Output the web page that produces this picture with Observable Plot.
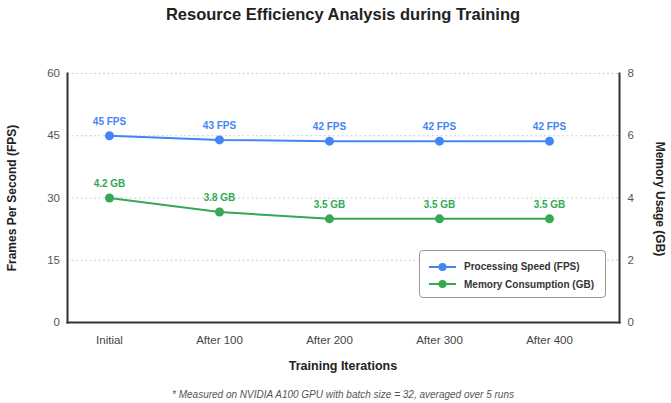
<!DOCTYPE html>
<html>
<head>
<meta charset="utf-8">
<script src="https://cdn.jsdelivr.net/npm/d3@7"></script>
<script src="https://cdn.jsdelivr.net/npm/@observablehq/plot@0.6"></script>
<style>
  html, body { margin: 0; padding: 0; background: #fff; }
  body { font-family: "Liberation Sans", Arial, Helvetica, sans-serif; }
  #wrap { position: relative; width: 671px; height: 403px; overflow: hidden; }
  #wrap > svg { position: absolute; left: 0; top: 0; }
  .ov { position: absolute; white-space: nowrap; }
  #title { left: 67px; width: 552px; top: 4px; text-align: center; font-size: 16.5px; font-weight: bold; color: #222; line-height: 20px; }
  #xtitle { left: 67px; width: 552px; top: 358px; text-align: center; font-size: 12.5px; font-weight: bold; color: #222; line-height: 16px; }
  #foot { left: 67px; width: 552px; top: 389px; text-align: center; font-size: 10px; font-style: italic; color: #555; line-height: 12px; }
  #ylab { left: 12px; top: 198px; transform: translate(-50%, -50%) rotate(-90deg); font-size: 12px; font-weight: bold; color: #222; }
  #ylab2 { left: 660px; top: 199px; transform: translate(-50%, -50%) rotate(90deg); font-size: 12px; font-weight: bold; color: #222; }
  #legend { left: 419px; top: 250px; width: 187px; height: 48px; box-sizing: border-box; border: 1px solid #999; border-radius: 4px; background: #fff; }
  #legend .row { position: absolute; left: 9px; height: 14px; display: flex; align-items: center; font-size: 10px; font-weight: bold; color: #333; }
  #legend .row svg { position: static; display: block; margin-right: 8px; }
</style>
</head>
<body>
<div id="wrap"></div>
<script>
const categories = ["Initial", "After 100", "After 200", "After 300", "After 400"];
const fpsValues = [45, 44, 43.7, 43.7, 43.7];
const fpsLabels = ["45 FPS", "43 FPS", "42 FPS", "42 FPS", "42 FPS"];
const memValues = [4.0, 3.55, 3.33, 3.33, 3.33];
const memLabels = ["4.2 GB", "3.8 GB", "3.5 GB", "3.5 GB", "3.5 GB"];
const fpsTicks = [0, 15, 30, 45, 60];
const memTicks = [0, 2, 4, 6, 8];
const seriesNames = ["Processing Speed (FPS)", "Memory Consumption (GB)"];
const colors = ["#4285F4", "#34A853"];

const fpsMax = fpsTicks[fpsTicks.length - 1];
const memMax = memTicks[memTicks.length - 1];
const memToY = v => v * fpsMax / memMax;

const data = categories.map((c, i) => ({
  cat: c, fps: fpsValues[i], fpsLabel: fpsLabels[i], mem: memValues[i], memLabel: memLabels[i]
}));

const axisColor = "#333";

const chart = Plot.plot({
  width: 671,
  height: 403,
  marginTop: 73,
  marginBottom: 81,
  marginLeft: 67,
  marginRight: 52,
  style: { fontFamily: "'Liberation Sans', Arial, sans-serif", background: "transparent" },
  x: { type: "point", domain: categories, range: [108.7, 550.3], padding: 0 },
  y: { domain: [0, fpsMax] },
  marks: [
    Plot.gridY(fpsTicks.filter(d => d > 0), { stroke: "#cfcfcf", strokeOpacity: 1, strokeDasharray: "2,2.5" }),
    Plot.frame({ anchor: "left", stroke: axisColor, strokeWidth: 2 }),
    Plot.frame({ anchor: "right", stroke: axisColor, strokeWidth: 2 }),
    Plot.frame({ anchor: "bottom", stroke: axisColor, strokeWidth: 2 }),
    Plot.axisY({ anchor: "left", ticks: fpsTicks, tickSize: 0, tickPadding: 7.5, fontSize: 11.5, color: "#555", label: null }),
    Plot.axisY({ anchor: "right", ticks: fpsTicks, tickSize: 0, tickPadding: 8, fontSize: 11.5, color: "#555", label: null,
      tickFormat: d => memTicks[fpsTicks.indexOf(d)] }),
    Plot.axisX({ tickSize: 0, tickPadding: 13, fontSize: 11.5, color: "#444", label: null }),
    Plot.line(data, { x: "cat", y: "fps", stroke: colors[0], strokeWidth: 2 }),
    Plot.dot(data, { x: "cat", y: "fps", r: 4.5, fill: colors[0], stroke: "none" }),
    Plot.text(data, { x: "cat", y: "fps", text: "fpsLabel", dy: -14, fill: colors[0], fontWeight: "bold", fontSize: 10 }),
    Plot.line(data, { x: "cat", y: d => memToY(d.mem), stroke: colors[1], strokeWidth: 2 }),
    Plot.dot(data, { x: "cat", y: d => memToY(d.mem), r: 4.5, fill: colors[1], stroke: "none" }),
    Plot.text(data, { x: "cat", y: d => memToY(d.mem), text: "memLabel", dy: -14, fill: colors[1], fontWeight: "bold", fontSize: 10 })
  ]
});

const wrap = document.getElementById("wrap");
wrap.appendChild(chart);

function addDiv(id, text) {
  const d = document.createElement("div");
  d.id = id; d.className = "ov"; d.textContent = text;
  wrap.appendChild(d);
  return d;
}
addDiv("title", "Resource Efficiency Analysis during Training");
addDiv("xtitle", "Training Iterations");
addDiv("foot", "* Measured on NVIDIA A100 GPU with batch size = 32, averaged over 5 runs");
addDiv("ylab", "Frames Per Second (FPS)");
addDiv("ylab2", "Memory Usage (GB)");

const legend = addDiv("legend", "");
seriesNames.forEach((name, i) => {
  const row = document.createElement("div");
  row.className = "row";
  row.style.top = (8.7 + i * 17.6) + "px";
  row.innerHTML = `<svg width="27" height="10"><line x1="0" y1="5" x2="27" y2="5" stroke="${colors[i]}" stroke-width="2"/><circle cx="13.5" cy="5" r="4" fill="${colors[i]}"/></svg>`;
  const span = document.createElement("span");
  span.textContent = name;
  row.appendChild(span);
  legend.appendChild(row);
});
</script>
</body>
</html>
